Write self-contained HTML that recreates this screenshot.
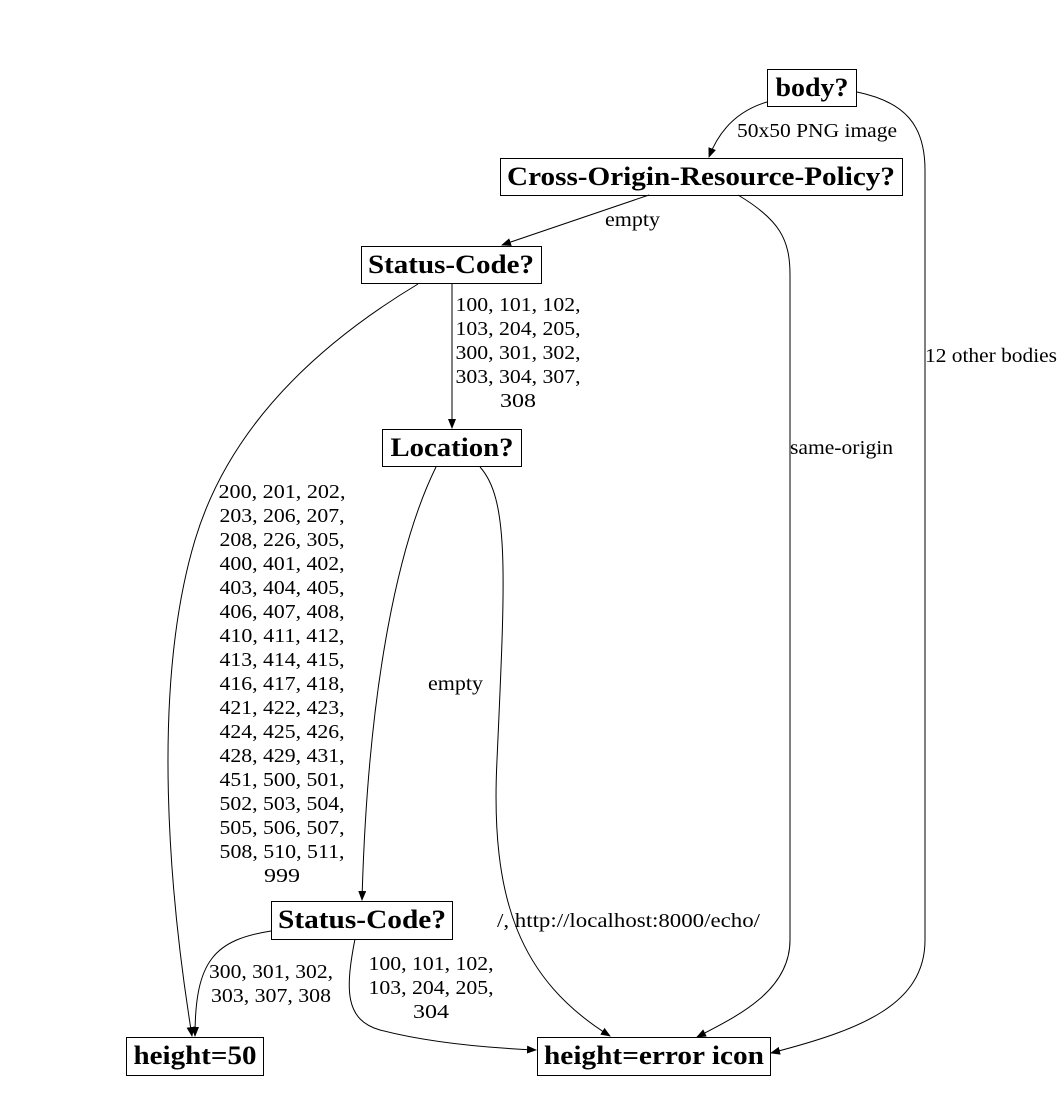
<!DOCTYPE html>
<html><head><meta charset="utf-8"><style>
html,body{margin:0;padding:0;background:#fff;}
svg{display:block;}
.n{font-family:"Liberation Serif",serif;font-weight:bold;font-size:26px;}
.l{font-family:"Liberation Serif",serif;font-size:20px;}
</style></head><body>
<svg width="1061" height="1119" viewBox="0 0 1061 1119" xmlns="http://www.w3.org/2000/svg">
<defs><marker id="a" markerWidth="10" markerHeight="8" refX="9" refY="4" orient="auto" markerUnits="userSpaceOnUse"><path d="M0,0 L10,4 L0,8 z" fill="#000"/></marker></defs>
<g fill="none" stroke="#000" stroke-width="1">
<rect x="767.5" y="69.5" width="89" height="37"/>
<rect x="500.5" y="158.5" width="402" height="37"/>
<rect x="361.5" y="246.5" width="180" height="37"/>
<rect x="382.5" y="429.5" width="139" height="37"/>
<rect x="271.5" y="901.5" width="181" height="38"/>
<rect x="126.5" y="1037.5" width="137" height="38"/>
<rect x="537.5" y="1037.5" width="233" height="38"/>
<path d="M767,102 C740,110 720,128 709,157" marker-end="url(#a)"/>
<path d="M857,92 C905,102 925,125 925,170 L925,940 C925,1005 860,1030 771,1053" marker-end="url(#a)"/>
<path d="M649,195 L502,245" marker-end="url(#a)"/>
<path d="M738,195 C780,220 790,240 790,275 L790,940 C790,990 740,1015 697,1037" marker-end="url(#a)"/>
<path d="M452,284 L452,428" marker-end="url(#a)"/>
<path d="M418,284 C300,355 225,440 195,540 C150,690 170,900 192,1036" marker-end="url(#a)"/>
<path d="M436,467 C400,540 368,680 362,900" marker-end="url(#a)"/>
<path d="M480,467 C510,500 505,580 497,760 C490,900 520,980 610,1036" marker-end="url(#a)"/>
<path d="M271,931 C215,940 195,960 195,1036" marker-end="url(#a)"/>
<path d="M355,939 C345,990 345,1020 380,1030 C430,1043 490,1048 536,1050" marker-end="url(#a)"/>
</g>
<g class="n" text-anchor="middle" lengthAdjust="spacingAndGlyphs">
<text x="812" y="96" textLength="73" lengthAdjust="spacingAndGlyphs">body?</text>
<text x="701" y="185" textLength="388" lengthAdjust="spacingAndGlyphs">Cross-Origin-Resource-Policy?</text>
<text x="451" y="273" textLength="166" lengthAdjust="spacingAndGlyphs">Status-Code?</text>
<text x="452" y="456" textLength="123" lengthAdjust="spacingAndGlyphs">Location?</text>
<text x="362" y="928" textLength="168" lengthAdjust="spacingAndGlyphs">Status-Code?</text>
<text x="195" y="1064" textLength="123" lengthAdjust="spacingAndGlyphs">height=50</text>
<text x="654" y="1064" textLength="220" lengthAdjust="spacingAndGlyphs">height=error icon</text>
</g>
<g class="l">
<text x="737" y="137" textLength="160" lengthAdjust="spacingAndGlyphs">50x50 PNG image</text>
<text x="605" y="226" textLength="55" lengthAdjust="spacingAndGlyphs">empty</text>
<text x="428" y="690" textLength="55" lengthAdjust="spacingAndGlyphs">empty</text>
<text x="790" y="454" textLength="103" lengthAdjust="spacingAndGlyphs">same-origin</text>
<text x="925" y="362" textLength="132" lengthAdjust="spacingAndGlyphs">12 other bodies</text>
<text x="497" y="927" textLength="263" lengthAdjust="spacingAndGlyphs">/, http://localhost:8000/echo/</text>
</g>
<g class="l" text-anchor="middle">
<text x="518" y="311" textLength="125" lengthAdjust="spacingAndGlyphs">100, 101, 102,</text>
<text x="518" y="335" textLength="125" lengthAdjust="spacingAndGlyphs">103, 204, 205,</text>
<text x="518" y="359" textLength="125" lengthAdjust="spacingAndGlyphs">300, 301, 302,</text>
<text x="518" y="383" textLength="125" lengthAdjust="spacingAndGlyphs">303, 304, 307,</text>
<text x="518" y="407" textLength="36" lengthAdjust="spacingAndGlyphs">308</text>
<text x="282" y="498" textLength="127" lengthAdjust="spacingAndGlyphs">200, 201, 202,</text>
<text x="282" y="522" textLength="125" lengthAdjust="spacingAndGlyphs">203, 206, 207,</text>
<text x="282" y="546" textLength="125" lengthAdjust="spacingAndGlyphs">208, 226, 305,</text>
<text x="282" y="570" textLength="125" lengthAdjust="spacingAndGlyphs">400, 401, 402,</text>
<text x="282" y="594" textLength="125" lengthAdjust="spacingAndGlyphs">403, 404, 405,</text>
<text x="282" y="618" textLength="125" lengthAdjust="spacingAndGlyphs">406, 407, 408,</text>
<text x="282" y="642" textLength="125" lengthAdjust="spacingAndGlyphs">410, 411, 412,</text>
<text x="282" y="666" textLength="125" lengthAdjust="spacingAndGlyphs">413, 414, 415,</text>
<text x="282" y="690" textLength="125" lengthAdjust="spacingAndGlyphs">416, 417, 418,</text>
<text x="282" y="714" textLength="125" lengthAdjust="spacingAndGlyphs">421, 422, 423,</text>
<text x="282" y="738" textLength="125" lengthAdjust="spacingAndGlyphs">424, 425, 426,</text>
<text x="282" y="762" textLength="125" lengthAdjust="spacingAndGlyphs">428, 429, 431,</text>
<text x="282" y="786" textLength="125" lengthAdjust="spacingAndGlyphs">451, 500, 501,</text>
<text x="282" y="810" textLength="125" lengthAdjust="spacingAndGlyphs">502, 503, 504,</text>
<text x="282" y="834" textLength="125" lengthAdjust="spacingAndGlyphs">505, 506, 507,</text>
<text x="282" y="858" textLength="125" lengthAdjust="spacingAndGlyphs">508, 510, 511,</text>
<text x="282" y="882" textLength="36" lengthAdjust="spacingAndGlyphs">999</text>
<text x="271" y="978" textLength="124" lengthAdjust="spacingAndGlyphs">300, 301, 302,</text>
<text x="271" y="1002" textLength="120" lengthAdjust="spacingAndGlyphs">303, 307, 308</text>
<text x="431" y="970" textLength="125" lengthAdjust="spacingAndGlyphs">100, 101, 102,</text>
<text x="431" y="994" textLength="125" lengthAdjust="spacingAndGlyphs">103, 204, 205,</text>
<text x="431" y="1018" textLength="36" lengthAdjust="spacingAndGlyphs">304</text>
</g>
</svg>
</body></html>
